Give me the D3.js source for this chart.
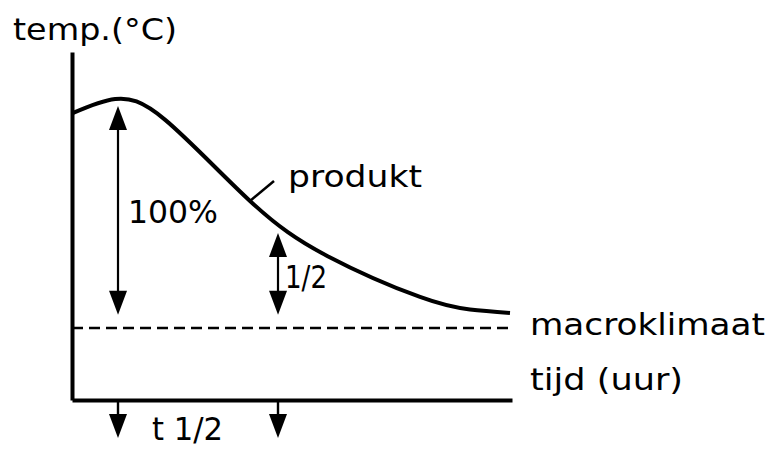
<!DOCTYPE html>
<html>
<head>
<meta charset="utf-8">
<script src="https://cdn.jsdelivr.net/npm/d3@7"></script>
<style>
  body { margin: 0; background: #fff; }
  text { font-family: "DejaVu Sans", sans-serif; fill: #000; }
</style>
</head>
<body>
<div id="chart"></div>
<script>
// curve of the product temperature
const tijd = [0.03, 1.08, 2.33, 4.45, 6.38, 8.7, 9.95, 10.95];
const productTemp = [82.5, 86.5, 80.5, 57.2, 41.4, 29.6, 26.0, 25.0];
const macroklimaat = 20.7;
// double arrows: time, top value, bottom value
const arrowTimes = [1.15, 5.15];
const arrowTops = [84.5, 48.0];
const arrowBottoms = [24.5, 24.5];
const arrowLabels = ["100%", "1/2"];

const width = 776, height = 449;
const x = d3.scaleLinear().domain([0, 11]).range([72, 512]);
const y = d3.scaleLinear().domain([0, 100]).range([400, 52]);

const svg = d3.select("#chart").append("svg")
    .attr("width", width)
    .attr("height", height);

// axes without ticks
svg.append("g")
    .attr("transform", `translate(0,${y(0)})`)
    .call(d3.axisBottom(x).tickValues([]).tickSizeOuter(0));
svg.append("g")
    .attr("transform", `translate(${x(0)},0)`)
    .call(d3.axisLeft(y).tickValues([]).tickSizeOuter(0));
svg.selectAll(".domain").attr("stroke", "#000").attr("stroke-width", 4);

// macroklimaat dashed line
svg.append("line")
    .attr("x1", x(0)).attr("x2", x(11))
    .attr("y1", y(macroklimaat)).attr("y2", y(macroklimaat))
    .attr("stroke", "#000").attr("stroke-width", 2.5)
    .attr("stroke-dasharray", "11,6");

// product curve
const line = d3.line()
    .x((d, i) => x(tijd[i]))
    .y(d => y(d))
    .curve(d3.curveNatural);
svg.append("path")
    .attr("d", line(productTemp))
    .attr("fill", "none")
    .attr("stroke", "#000")
    .attr("stroke-width", 4);

// pointer line to "produkt"
svg.append("line")
    .attr("x1", x(tijd[3])).attr("y1", y(productTemp[3]))
    .attr("x2", x(tijd[3]) + 24).attr("y2", y(productTemp[3]) - 20)
    .attr("stroke", "#000").attr("stroke-width", 2.5);

function head(px, tipY, dir) {
    // dir = 1 points up (body below tip), -1 points down
    svg.append("path")
        .attr("d", `M${px},${tipY} L${px + 9},${tipY + dir * 24} L${px - 9},${tipY + dir * 24} Z`)
        .attr("fill", "#000");
}

// double arrows
arrowTimes.forEach((t, i) => {
    svg.append("line")
        .attr("x1", x(t)).attr("x2", x(t))
        .attr("y1", y(arrowTops[i]) + 20)
        .attr("y2", y(arrowBottoms[i]) - 20)
        .attr("stroke", "#000").attr("stroke-width", 2.2);
    head(x(t), y(arrowTops[i]), 1);
    head(x(t), y(arrowBottoms[i]), -1);
});

// down arrows under the time axis
arrowTimes.forEach(t => {
    const top = y(0) + 2;
    svg.append("line")
        .attr("x1", x(t)).attr("x2", x(t))
        .attr("y1", top).attr("y2", top + 20)
        .attr("stroke", "#000").attr("stroke-width", 2.4);
    head(x(t), top + 36, -1);
});

// labels
function label(txt, px, py, len, size) {
    svg.append("text")
        .attr("x", px).attr("y", py)
        .attr("textLength", len)
        .attr("lengthAdjust", "spacingAndGlyphs")
        .style("font-size", (size || 30) + "px")
        .text(txt);
}
label("temp.(°C)", 13, 40, 164);
label(arrowLabels[0], 128, 223, 90, 32);
label(arrowLabels[1], 285, 288, 42, 32);
label("produkt", 288, 187, 134);
label("macroklimaat", 530, 335, 235);
label("tijd (uur)", 530, 390, 153);
label("t 1/2", 152, 440, 71, 32);
</script>
</body>
</html>
